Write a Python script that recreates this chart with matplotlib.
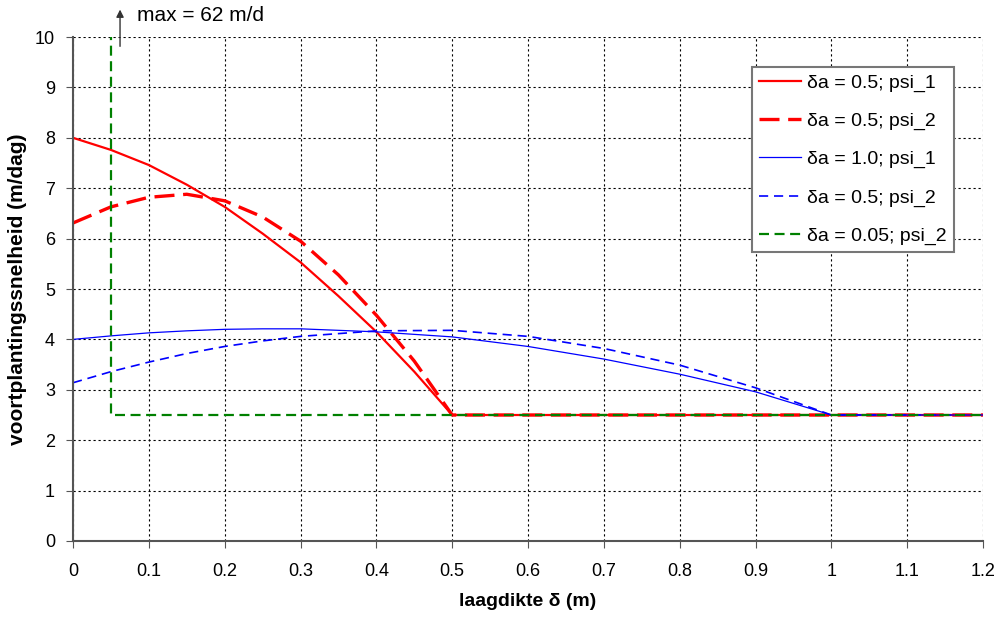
import matplotlib
matplotlib.use("Agg")
import matplotlib.pyplot as plt

plt.rcParams['font.family'] = ['Liberation Sans', 'DejaVu Sans']

# red: delta_a = 0.5
red_x = [0, 0.05, 0.1, 0.15, 0.2, 0.25, 0.3, 0.35, 0.4, 0.45, 0.5, 0.6, 0.7, 0.8, 0.9, 1.0, 1.1, 1.2]
red1_y = [8.0, 7.76, 7.46, 7.07, 6.63, 6.1, 5.53, 4.86, 4.15, 3.36, 2.5, 2.5, 2.5, 2.5, 2.5, 2.5, 2.5, 2.5]
red2_y = [6.31, 6.63, 6.82, 6.88, 6.75, 6.43, 5.95, 5.28, 4.48, 3.57, 2.5, 2.5, 2.5, 2.5, 2.5, 2.5, 2.5, 2.5]

# blue
blue_x = [0, 0.05, 0.1, 0.15, 0.2, 0.25, 0.3, 0.4, 0.5, 0.6, 0.7, 0.8, 0.9, 1.0, 1.1, 1.2]
blue1_y = [4.0, 4.07, 4.13, 4.17, 4.2, 4.21, 4.21, 4.15, 4.05, 3.86, 3.61, 3.31, 2.96, 2.5, 2.5, 2.5]
blue2_y = [3.14, 3.36, 3.55, 3.72, 3.86, 3.97, 4.06, 4.17, 4.18, 4.06, 3.82, 3.49, 3.04, 2.5, 2.5, 2.5]

# green: delta_a = 0.05
green_x = [0.05, 0.05, 1.2]
green_y = [62, 2.5, 2.5]

labels = ['δa = 0.5; psi_1', 'δa = 0.5; psi_2', 'δa = 1.0; psi_1',
          'δa = 0.5; psi_2', 'δa = 0.05; psi_2']

fig = plt.figure(figsize=(10.03, 6.18), dpi=100)
ax = fig.add_axes([0.0728, 0.1246, 0.9073, 0.8155])

ax.plot(red_x, red1_y, color='#ff0000', lw=1.6, label=labels[0])
ax.plot(red_x, red2_y, color='#ff0000', lw=2.4, dashes=(6, 2.6), label=labels[1])
ax.plot(blue_x, blue1_y, color='#0000ff', lw=0.9, label=labels[2])
ax.plot(blue_x, blue2_y, color='#0000ff', lw=1.2, dashes=(5.5, 3.5), label=labels[3])
ax.plot(green_x, green_y, color='#008000', lw=1.6, dashes=(4.5, 2.5), label=labels[4])

ax.set_xlim(0, 1.2)
ax.set_ylim(0, 10)
ax.set_xticks([i / 10 for i in range(13)])
ax.set_xticklabels(['0', '0.1', '0.2', '0.3', '0.4', '0.5', '0.6', '0.7', '0.8',
                    '0.9', '1', '1.1', '1.2'])
ax.set_yticks(range(11))
ax.grid(True, color='black', linestyle=(0, (2, 2.5)), linewidth=0.8)
ax.set_axisbelow(True)

for s in ['top', 'right']:
    ax.spines[s].set_visible(False)
for s in ['left', 'bottom']:
    ax.spines[s].set_color('#555555')
    ax.spines[s].set_linewidth(1.5)
ax.tick_params(direction='out', length=5, color='#555555', labelsize=13)
ax.tick_params(axis='x', pad=11)
ax.tick_params(axis='y', pad=8)

ax.set_xlabel('laagdikte δ (m)', fontsize=14, fontweight='bold', labelpad=9)
ax.set_ylabel('voortplantingssnelheid (m/dag)', fontsize=15, fontweight='bold', labelpad=6)

leg = ax.legend(loc='upper left', bbox_to_anchor=(0.746, 0.94), fontsize=14,
                labelspacing=1.05, handlelength=2.2, handletextpad=0.3,
                borderpad=0.35, borderaxespad=0, fancybox=False, framealpha=1)
leg.get_frame().set_edgecolor('#777777')
leg.get_frame().set_linewidth(1.5)

ax.annotate('', xy=(0.062, 10.6), xytext=(0.062, 9.76),
            arrowprops=dict(arrowstyle='-|>', color='#333333', lw=1, mutation_scale=11),
            annotation_clip=False)
ax.text(0.084, 10.42, 'max = 62 m/d', fontsize=15, va='center', ha='left', clip_on=False)

fig.savefig('out.png', dpi=100)
